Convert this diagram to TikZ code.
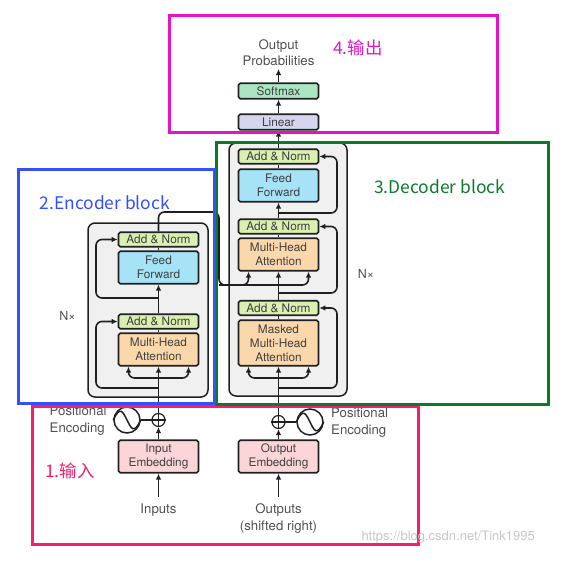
\documentclass[tikz,border=0pt]{standalone}
\usepackage{fontspec}
\setmainfont{TeX Gyre Heros}
\newfontfamily\labelfont{Noto Sans CJK SC}
\usetikzlibrary{arrows.meta,calc}
\definecolor{txt}{HTML}{505050}
\definecolor{boxtxt}{HTML}{404040}
\definecolor{edge}{HTML}{202020}
\definecolor{normc}{HTML}{D9F0B0}
\definecolor{ffc}{HTML}{A6E3F7}
\definecolor{attc}{HTML}{FBD8AC}
\definecolor{embc}{HTML}{FBD5D8}
\definecolor{softc}{HTML}{ABE6C2}
\definecolor{linc}{HTML}{D5D5EE}
\definecolor{grayc}{HTML}{F0F0F0}
\definecolor{fpink}{HTML}{FA1A6E}
\definecolor{fmag}{HTML}{E414C4}
\definecolor{fblue}{HTML}{3350FA}
\definecolor{fgreen}{HTML}{0B7A2C}
\tikzset{
  x=1pt,y=-1pt,
  block/.style={draw=edge,line width=1.6pt,rounded corners=1.8pt,minimum width=80pt,inner sep=0pt,align=center,text=boxtxt,font=\fontsize{11.8}{14}\selectfont},
  addnorm/.style={block,fill=normc,minimum height=14.5pt},
  feed/.style={block,fill=ffc,minimum height=32.5pt},
  atten/.style={block,fill=attc,minimum height=32.5pt},
  masked/.style={block,fill=attc,minimum height=45.5pt},
  embed/.style={block,fill=embc,minimum height=32.5pt},
  soft/.style={block,fill=softc,minimum height=15.5pt},
  lin/.style={block,fill=linc,minimum height=15.5pt},
  stack/.style={draw=edge,line width=1.5pt,fill=grayc,rounded corners=7pt,inner sep=0pt},
  outer/.style={text=txt,align=center,inner sep=0pt,font=\fontsize{13.2}{16.5}\selectfont},
  outerl/.style={outer,align=left,anchor=west},
  flow/.style={draw=edge,line width=1.6pt,rounded corners=6pt,-{Latex[length=6pt,width=5.5pt]}},
  link/.style={draw=edge,line width=1.6pt,rounded corners=6pt},
  frame/.style={line width=3pt,fill=none},
  tag/.style={font=\labelfont\fontsize{17.4}{20}\selectfont,inner sep=0pt,anchor=west},
  adder/.style={circle,draw=edge,line width=1.2pt,minimum size=13pt,inner sep=0pt},
  wave/.style={circle,draw=edge,line width=1.5pt,minimum size=26pt,inner sep=0pt}
}
\begin{document}
\begin{tikzpicture}
\useasboundingbox (0,0) rectangle (580,565);
% stacks
\node[stack,minimum width=120pt,minimum height=174pt] (encstack) at (148,310) {};
\node[stack,minimum width=118pt,minimum height=253pt] (decstack) at (288,269.5) {};
% encoder blocks
\node[addnorm] (ean) at (158.5,239.5) {Add \& Norm};
\node[feed] (eff) at (158.5,267.5) {Feed\\Forward};
\node[addnorm] (ean2) at (158.5,321.5) {Add \& Norm};
\node[atten] (emh) at (158.5,349.5) {Multi-Head\\Attention};
% decoder blocks
\node[addnorm] (dan) at (278.5,156.5) {Add \& Norm};
\node[feed] (dff) at (278.5,185.5) {Feed\\Forward};
\node[addnorm] (dan2) at (278.5,226.5) {Add \& Norm};
\node[atten] (dmh) at (278.5,254.5) {Multi-Head\\Attention};
\node[addnorm] (dan3) at (278.5,308) {Add \& Norm};
\node[masked] (dmm) at (278.5,343) {Masked\\Multi-Head\\Attention};
% embeddings
\node[embed] (iemb) at (158.5,456.5) {Input\\Embedding};
\node[embed] (oemb) at (278.5,456.5) {Output\\Embedding};
\node[adder] (iadd) at (158.5,420) {};
\node[adder] (oadd) at (278.5,422) {};
\draw[edge,line width=1.2pt] (iadd.north)--(iadd.south) (iadd.west)--(iadd.east) (oadd.north)--(oadd.south) (oadd.west)--(oadd.east);
\node[wave] (iwave) at (127,420) {};
\node[wave] (owave) at (310,422) {};
\foreach \w in {iwave,owave}
  \draw[edge,line width=1.5pt] (\w.west) .. controls ($(\w.west)+(7,-15)$) and ($(\w.center)+(-4,-8)$) .. (\w.center) .. controls ($(\w.center)+(4,8)$) and ($(\w.east)+(-7,15)$) .. (\w.east);
\draw[link] (iwave)--(iadd);
\draw[link] (owave)--(oadd);
% output blocks
\node[soft] (soft) at (278.5,91) {Softmax};
\node[lin] (lin) at (278.5,122) {Linear};
% texts
\node[outer] (prob) at (278.5,52.5) {Output\\Probabilities};
\node[outer] (inp) at (158.5,510) {Inputs};
\node[outer] (outp) at (278.5,518.5) {Outputs\\(shifted right)};
\node[outerl] (pel) at (49.5,420.5) {Positional\\Encoding};
\node[outerl] (per) at (331,422.5) {Positional\\Encoding};
\node[outer,font=\fontsize{12.5}{15}\selectfont] (nl) at (67.5,316) {N×};
\node[outer,font=\fontsize{12.5}{15}\selectfont] (nr) at (366,274) {N×};
% named free ends and junctions
\coordinate (inpt) at (158.5,497);
\coordinate (outpt) at (278.5,497);
\coordinate (ej1) at (158.5,388);
\coordinate (ej2) at (158.5,378);
\coordinate (ej3) at (158.5,298);
\coordinate (ebus) at (158.5,212);
\coordinate (dj1) at (278.5,388);
\coordinate (dj2) at (278.5,378);
\coordinate (dj3) at (278.5,293);
\coordinate (dj4) at (278.5,213);
\coordinate (dbus) at (278.5,285);
\coordinate (eturn) at (219,212);
\coordinate (eturn2) at (219,285);
\coordinate (lres) at (96,300);
\coordinate (probin) at (278.5,69);
% vertical flow
\draw[flow] (inpt)--(iemb.south);
\draw[flow] (outpt)--(oemb.south);
\draw[flow] (iemb.north)--(iadd.south);
\draw[flow] (oemb.north)--(oadd.south);
\draw[flow] (iadd.north)--(emh.south);
\draw[flow] (oadd.north)--(dmm.south);
\draw[link] (emh.north)--(ean2.south);
\draw[flow] (ean2.north)--(eff.south);
\draw[link] (eff.north)--(ean.south);
\draw[link] (dmm.north)--(dan3.south);
\draw[link] (dmh.north)--(dan2.south);
\draw[flow] (dan2.north)--(dff.south);
\draw[link] (dff.north)--(dan.south);
\draw[flow] (dan.north)--(lin.south);
\draw[flow] (lin.north)--(soft.south);
\draw[flow] (soft.north)--(probin);
% encoder branches
\draw[flow] (ej2) -| ($(emh.south)+(-30,0)$);
\draw[flow] (ej2) -| ($(emh.south)+(30,0)$);
\draw[flow] (ej1) -| (96,321.5) -- (ean2.west);
\draw[flow] (ej3) -| (96,239.5) -- (ean.west);
% decoder branches
\draw[flow] (dj2) -| ($(dmm.south)+(-30,0)$);
\draw[flow] (dj2) -| ($(dmm.south)+(30,0)$);
\draw[flow] (dj1) -| (337,308) -- (dan3.east);
\draw[flow] (dj3) -| (337,226.5) -- (dan2.east);
\draw[flow] (dj4) -| (337,156.5) -- (dan.east);
% encoder to decoder
\draw[link] (ean.north) -- (ebus) -- (eturn) -- (eturn2) -- (dbus);
\draw[flow] (eturn2) -| ($(dmh.south)+(-30,0)$);
\draw[flow] (dbus) -- (dmh.south);
\draw[link] (dan3.north) -- (dbus);
\draw[flow] (dbus) -| ($(dmh.south)+(30,0)$);
% coloured frames
\draw[frame,draw=fpink] (32,406) rectangle (418,544);
\draw[frame,draw=fgreen] (216.5,142) rectangle (548,404);
\draw[frame,draw=fblue] (18,169.5) rectangle (214.5,403);
\draw[frame,draw=fmag] (169,15) rectangle (497,132);
\node[tag,text=fpink] (t1) at (45,471) {1.输入};
\node[tag,text=fblue] (t2) at (39.5,203) {2.Encoder block};
\node[tag,text=fgreen] (t3) at (374,187) {3.Decoder block};
\node[tag,text=fmag] (t4) at (333,48) {4.输出};
\node[inner sep=0pt,anchor=east,text=gray!45,font=\fontsize{13}{15}\selectfont] (wm) at (535,537) {https://blog.csdn.net/Tink1995};
\end{tikzpicture}
\end{document}
